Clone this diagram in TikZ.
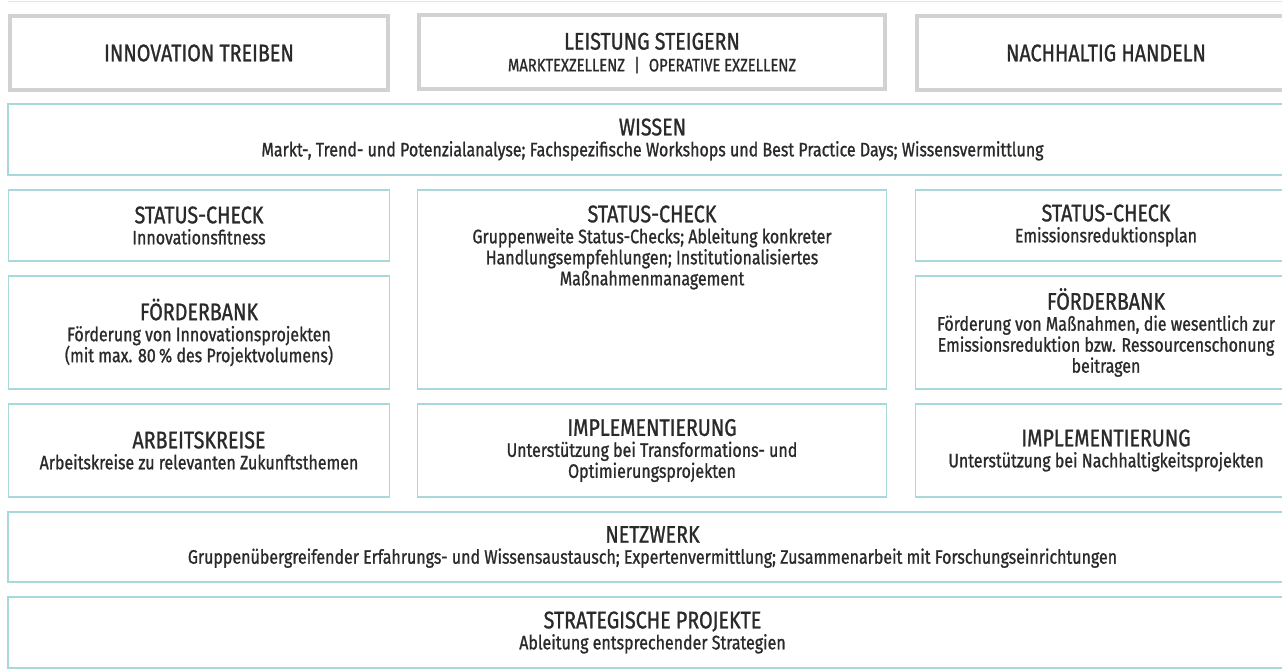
\documentclass[tikz,border=0pt]{standalone}
\usepackage{fontspec}
\setmainfont{Fira Sans}[FakeStretch=0.82, FakeBold=1.0]
\usetikzlibrary{positioning}
\definecolor{boxline}{HTML}{A8D8D9}
\definecolor{topline}{HTML}{D2D2D2}
\definecolor{ink}{HTML}{2A2A2A}

\begin{document}
\begin{tikzpicture}[x=1pt, y=-1pt]
        \tikzstyle{box}=[draw=boxline, line width=1.5pt, fill=white, align=center, text=ink, inner sep=0pt, font=\fontsize{19.5}{21}\selectfont]
        \tikzstyle{topbox}=[box, draw=topline, line width=4pt]
        \useasboundingbox (0,0) rectangle (1282,670);
        \clip (0,0) rectangle (1282,670);
        \fill[white] (0,0) rectangle (1282,670);
        \draw[boxline!50, line width=1pt] (8,1) -- (1297,1);
        % top row
        \node[topbox, minimum width=378pt, minimum height=74pt] (innov) at (199,53) {\fontsize{24}{26}\selectfont INNOVATION TREIBEN};
        \node[topbox, minimum width=466pt, minimum height=74pt] (leist) at (652,52) {};
        \node[align=center, text=ink, inner sep=0pt] (leisttxt) at ([yshift=-1pt]leist.center) {\fontsize{24}{26}\selectfont LEISTUNG STEIGERN\\[6pt] \fontsize{18}{20}\selectfont MARKTEXZELLENZ\enspace|\enspace OPERATIVE EXZELLENZ};
        \node[topbox, minimum width=378pt, minimum height=74pt] (nach) at (1106,53) {\fontsize{24}{26}\selectfont NACHHALTIG HANDELN};
        % full width
        \node[box, minimum width=1289pt, minimum height=71pt] (wissen) at (652.5,139.5) {{\fontsize{24}{26}\selectfont WISSEN}\\ Markt-, Trend- und Potenzialanalyse; Fachspezifische Workshops und Best Practice Days; Wissensvermittlung};
        % columns
        \node[box, minimum width=381pt, minimum height=71pt] (statusL) at (199,225.5) {{\fontsize{24}{26}\selectfont STATUS-CHECK}\\ Innovationsfitness};
        \node[box, minimum width=469pt, minimum height=199pt] (statusM) at (652,289.5) {};
        \node[align=center, text=ink, inner sep=0pt, font=\fontsize{19.5}{21}\selectfont, anchor=north] (statusMtxt) at ([yshift=-16pt]statusM.north) {{\fontsize{24}{26}\selectfont STATUS-CHECK}\\ Gruppenweite Status-Checks; Ableitung konkreter\\ Handlungsempfehlungen; Institutionalisiertes\\ Maßnahmenmanagement};
        \node[box, minimum width=381pt, minimum height=71pt] (statusR) at (1106,225.5) {{\fontsize{24}{26}\selectfont STATUS-CHECK}\\ Emissionsreduktionsplan};
        \node[box, minimum width=381pt, minimum height=113pt] (foerderL) at (199,332.5) {{\fontsize{24}{26}\selectfont FÖRDERBANK}\\ Förderung von Innovationsprojekten\\ (mit max. 80\,\% des Projektvolumens)};
        \node[box, minimum width=381pt, minimum height=113pt] (foerderR) at (1106,332.5) {{\fontsize{24}{26}\selectfont FÖRDERBANK}\\ Förderung von Maßnahmen, die wesentlich zur\\ Emissionsreduktion bzw. Ressourcenschonung\\ beitragen};
        \node[box, minimum width=381pt, minimum height=93pt] (arbeit) at (199,450.5) {{\fontsize{24}{26}\selectfont ARBEITSKREISE}\\ Arbeitskreise zu relevanten Zukunftsthemen};
        \node[box, minimum width=469pt, minimum height=93pt] (implM) at (652,450.5) {{\fontsize{24}{26}\selectfont IMPLEMENTIERUNG}\\ Unterstützung bei Transformations- und\\ Optimierungsprojekten};
        \node[box, minimum width=381pt, minimum height=93pt] (implR) at (1106,450.5) {{\fontsize{24}{26}\selectfont IMPLEMENTIERUNG}\\ Unterstützung bei Nachhaltigkeitsprojekten};
        % full width
        \node[box, minimum width=1289pt, minimum height=70pt] (netz) at (652.5,547) {{\fontsize{24}{26}\selectfont NETZWERK}\\ Gruppenübergreifender Erfahrungs- und Wissensaustausch; Expertenvermittlung; Zusammenarbeit mit Forschungseinrichtungen};
        \node[box, minimum width=1289pt, minimum height=71pt] (strat) at (652.5,632.5) {{\fontsize{24}{26}\selectfont STRATEGISCHE PROJEKTE}\\ Ableitung entsprechender Strategien};
\end{tikzpicture}
\end{document}
